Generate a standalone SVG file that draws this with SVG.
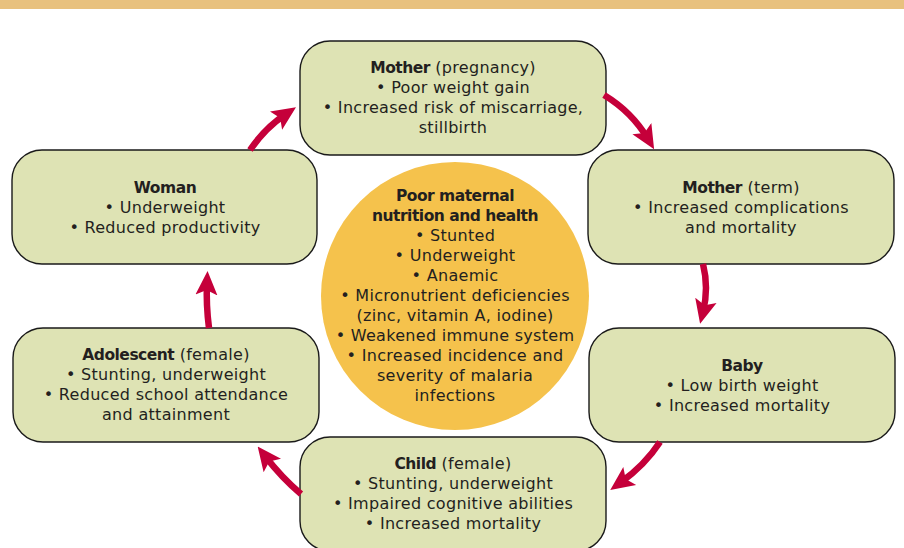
<svg xmlns="http://www.w3.org/2000/svg" width="904" height="548" viewBox="0 0 904 548">
<defs>
<style>
.box{fill:#DEE3B4;stroke:#1a1a1a;stroke-width:1.4}
.t{font-family:"DejaVu Sans","Liberation Sans",Arial,sans-serif;font-size:16px;letter-spacing:0.3px;fill:#231F20;text-anchor:middle}
.b{font-weight:bold;font-size:15.5px;letter-spacing:-0.5px}
.arr{fill:none;stroke:#C5003A;stroke-width:6.5;marker-end:url(#ah)}
</style>
<marker id="ah" markerUnits="userSpaceOnUse" markerWidth="24" markerHeight="24" viewBox="0 0 24 24" refX="12" refY="12" orient="auto">
<path d="M0,1 L24,12 L0,23 L5,12 z" fill="#C5003A"/>
</marker>
</defs>
<rect x="0" y="0" width="904" height="9" fill="#E8C17E"/>

<g id="center">
<circle cx="455" cy="296" r="134" fill="#F5C24C"/>
<text class="t"><tspan class="b" x="455" y="201">Poor maternal</tspan><tspan class="b" x="455" y="221">nutrition and health</tspan><tspan x="455" y="241">• Stunted</tspan><tspan x="455" y="261">• Underweight</tspan><tspan x="455" y="281">• Anaemic</tspan><tspan x="455" y="301">• Micronutrient deficiencies</tspan><tspan x="455" y="321">(zinc, vitamin A, iodine)</tspan><tspan x="455" y="341">• Weakened immune system</tspan><tspan x="455" y="361">• Increased incidence and</tspan><tspan x="455" y="381">severity of malaria</tspan><tspan x="455" y="401">infections</tspan></text>
</g>

<g id="mother-pregnancy">
<rect class="box" x="300" y="41" width="306" height="114" rx="30"/>
<text class="t"><tspan x="453" y="73"><tspan class="b">Mother</tspan> (pregnancy)</tspan><tspan x="453" y="93">• Poor weight gain</tspan><tspan x="453" y="113">• Increased risk of miscarriage,</tspan><tspan x="453" y="133">stillbirth</tspan></text>
</g>

<g id="mother-term">
<rect class="box" x="588" y="150" width="306" height="114" rx="30"/>
<text class="t"><tspan x="741" y="193"><tspan class="b">Mother</tspan> (term)</tspan><tspan x="741" y="213">• Increased complications</tspan><tspan x="741" y="233">and mortality</tspan></text>
</g>

<g id="baby">
<rect class="box" x="589" y="328" width="306" height="114" rx="30"/>
<text class="t"><tspan class="b" x="742" y="371">Baby</tspan><tspan x="742" y="391">• Low birth weight</tspan><tspan x="742" y="411">• Increased mortality</tspan></text>
</g>

<g id="child">
<rect class="box" x="300" y="437" width="306" height="114" rx="30"/>
<text class="t"><tspan x="453" y="469"><tspan class="b">Child</tspan> (female)</tspan><tspan x="453" y="489">• Stunting, underweight</tspan><tspan x="453" y="509">• Impaired cognitive abilities</tspan><tspan x="453" y="529">• Increased mortality</tspan></text>
</g>

<g id="adolescent">
<rect class="box" x="13" y="328" width="306" height="114" rx="30"/>
<text class="t"><tspan x="166" y="360"><tspan class="b">Adolescent</tspan> (female)</tspan><tspan x="166" y="380">• Stunting, underweight</tspan><tspan x="166" y="400">• Reduced school attendance</tspan><tspan x="166" y="420">and attainment</tspan></text>
</g>

<g id="woman">
<rect class="box" x="12" y="150" width="305" height="114" rx="30"/>
<text class="t"><tspan class="b" x="165" y="193">Woman</tspan><tspan x="165" y="213">• Underweight</tspan><tspan x="165" y="233">• Reduced productivity</tspan></text>
</g>

<g id="connectors">
<path class="arr" d="M604,95 Q632,112 648,139"/>
<path class="arr" d="M703,264 Q709,288 703,312"/>
<path class="arr" d="M660,442 Q645,465 620,483"/>
<path class="arr" d="M301,494 Q282,478 265,456"/>
<path class="arr" d="M209,328 Q206,305 207,283"/>
<path class="arr" d="M250,150 Q265,128 286,114"/>
</g>
</svg>
